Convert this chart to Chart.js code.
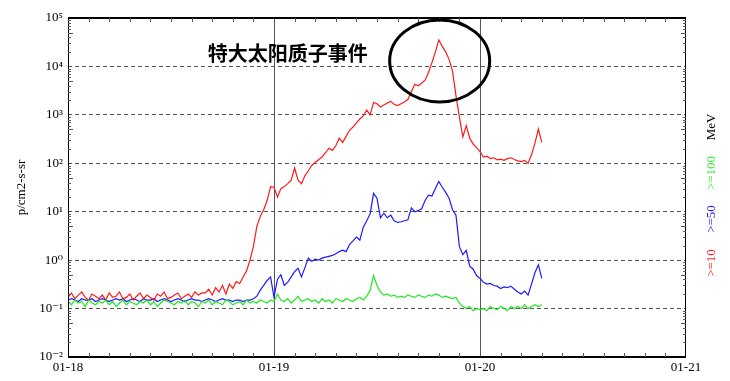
<!DOCTYPE html>
<html lang="zh">
<head>
    <meta charset="UTF-8">
    <title>特大太阳质子事件</title>
    <script src="https://cdn.jsdelivr.net/npm/chart.js"></script>
    <style>
        body { margin: 0; padding: 0; background: #fff; }
        canvas { display: block; }
    </style>
</head>
<body>
    <canvas id="protonChart" width="730" height="381"></canvas>

    <script>
        // x axis: hours since 01-18 00:00, one sample every 0.4 h
        const dayLabels = ['01-18', '01-19', '01-20', '01-21'];
        const dayHours = [0, 24, 48, 72];
        const yTickValues = [0.01, 0.1, 1, 10, 100, 1000, 10000, 100000];
        const yTickLabels = ['10⁻²', '10⁻¹', '10⁰', '10¹', '10²', '10³', '10⁴', '10⁵'];
        const seriesLabels = ['>=10', '>=50', '>=100'];

        // >=10 MeV
        const redFlux = [
            0.17, 0.21, 0.16, 0.19, 0.22, 0.17, 0.15, 0.20, 0.18, 0.16,
            0.19, 0.15, 0.21, 0.17, 0.18, 0.22, 0.16, 0.17, 0.20, 0.15,
            0.18, 0.21, 0.16, 0.19, 0.17, 0.15, 0.20, 0.18, 0.22, 0.16,
            0.17, 0.19, 0.21, 0.16, 0.18, 0.20, 0.17, 0.22, 0.19, 0.21,
            0.21, 0.25, 0.19, 0.27, 0.22, 0.30, 0.20, 0.32, 0.26, 0.36,
            0.33, 0.45, 0.60, 1.0, 1.9, 5, 8, 11, 17, 33,
            32, 20, 30, 33, 38, 45, 80, 45, 38, 55,
            70, 90, 105, 118, 135, 165, 205, 185, 230, 330,
            270, 360, 480, 560, 680, 820, 950, 1250, 1000, 1800,
            1700, 1450, 1600, 1750, 1900, 1650, 1550, 1700, 1850, 2100,
            3000, 4300, 4000, 4500, 5200, 7500, 12000, 20000, 35000, 26000,
            20000, 14000, 8000, 2500, 900, 350, 600, 330, 250, 210,
            175, 135, 140, 125, 130, 118, 122, 115, 125, 130,
            120, 112, 108, 115, 100, 150, 260, 510, 270
        ];

        // >=50 MeV
        const blueFlux = [
            0.15, 0.16, 0.15, 0.14, 0.16, 0.15, 0.15, 0.16, 0.14, 0.15,
            0.16, 0.15, 0.14, 0.15, 0.16, 0.15, 0.16, 0.14, 0.15, 0.16,
            0.15, 0.14, 0.16, 0.15, 0.15, 0.16, 0.14, 0.15, 0.16, 0.15,
            0.14, 0.15, 0.16, 0.15, 0.14, 0.15, 0.16, 0.15, 0.15, 0.14,
            0.15, 0.16, 0.15, 0.14, 0.15, 0.16, 0.15, 0.15, 0.14, 0.15,
            0.15, 0.14, 0.15, 0.15, 0.16, 0.18, 0.24, 0.30, 0.38, 0.45,
            0.17, 0.40, 0.50, 0.30, 0.35, 0.45, 0.58, 0.68, 0.45, 0.70,
            1.1, 0.95, 1.05, 1.0, 1.1, 1.15, 1.2, 1.25, 1.35, 1.5,
            1.6, 1.5, 2.1, 2.5, 3.0, 2.6, 4.8, 6.5, 9, 24,
            19, 7.5, 9.3, 7.5, 8.5, 6.5, 6.0, 6.2, 6.5, 6.8,
            12, 10, 10.5, 11.5, 17, 22, 21, 30, 42, 32,
            25, 19, 11, 8.5, 1.9, 1.3, 1.6, 0.75, 0.65, 0.48,
            0.42, 0.35, 0.32, 0.33, 0.30, 0.29, 0.26, 0.28, 0.27, 0.29,
            0.25, 0.22, 0.20, 0.23, 0.19, 0.32, 0.55, 0.80, 0.42
        ];

        // >=100 MeV
        const greenFlux = [
            0.14, 0.12, 0.15, 0.13, 0.14, 0.11, 0.15, 0.13, 0.12, 0.14,
            0.13, 0.15, 0.12, 0.14, 0.11, 0.13, 0.15, 0.12, 0.14, 0.13,
            0.12, 0.14, 0.13, 0.15, 0.12, 0.14, 0.11, 0.13, 0.15, 0.14,
            0.13, 0.12, 0.14, 0.13, 0.15, 0.12, 0.14, 0.13, 0.11, 0.14,
            0.13, 0.15, 0.12, 0.14, 0.13, 0.12, 0.15, 0.14, 0.12, 0.13,
            0.14, 0.12, 0.15, 0.13, 0.14, 0.13, 0.15, 0.14, 0.13, 0.15,
            0.14, 0.20, 0.15, 0.14, 0.16, 0.13, 0.15, 0.18, 0.14, 0.15,
            0.16, 0.14, 0.15, 0.13, 0.16, 0.14, 0.15, 0.13, 0.16, 0.15,
            0.14, 0.16, 0.15, 0.14, 0.16, 0.17, 0.15, 0.18, 0.24, 0.48,
            0.30, 0.22, 0.19, 0.20, 0.18, 0.19, 0.17, 0.18, 0.17, 0.19,
            0.18, 0.17, 0.19, 0.18, 0.17, 0.19, 0.18, 0.20, 0.19, 0.17,
            0.18, 0.17, 0.16, 0.17, 0.13, 0.11, 0.10, 0.11, 0.09, 0.10,
            0.095, 0.10, 0.09, 0.11, 0.10, 0.095, 0.11, 0.10, 0.09, 0.11,
            0.10, 0.11, 0.10, 0.12, 0.10, 0.11, 0.12, 0.11, 0.12
        ];

        const sampleHours = redFlux.map((_, i) => i * 0.4);
        const toPoints = vals => vals.map((v, i) => ({ x: sampleHours[i], y: v }));

        const SERIF = "'Liberation Serif', 'DejaVu Serif', serif";

        // frame, inside tick marks, right-hand legend, event note + circle
        const decorations = {
            id: 'decorations',
            afterDatasetsDraw(chart) {
                const { ctx, chartArea: a, scales: { x, y } } = chart;
                ctx.save();

                // frame
                ctx.strokeStyle = '#000';
                ctx.lineWidth = 1;
                ctx.beginPath();
                ctx.moveTo(a.left + 0.5, a.top);
                ctx.lineTo(a.left + 0.5, a.bottom);
                ctx.moveTo(a.right - 0.5, a.top);
                ctx.lineTo(a.right - 0.5, a.bottom);
                ctx.stroke();
                ctx.lineWidth = 2;
                ctx.beginPath();
                ctx.moveTo(a.left, a.top);
                ctx.lineTo(a.right, a.top);
                ctx.moveTo(a.left, a.bottom);
                ctx.lineTo(a.right, a.bottom);
                ctx.stroke();

                // minor ticks on the log axes
                ctx.strokeStyle = '#555';
                ctx.lineWidth = 1;
                ctx.beginPath();
                for (let d = -2; d < 5; d++) {
                    for (let m = 2; m <= 9; m++) {
                        const py = Math.round(y.getPixelForValue(m * Math.pow(10, d))) + 0.5;
                        const len = m === 5 ? 5 : 3;
                        ctx.moveTo(a.left, py); ctx.lineTo(a.left + len, py);
                        ctx.moveTo(a.right, py); ctx.lineTo(a.right - len, py);
                    }
                }
                // time ticks every 0.1 day
                for (let k = 1; k < 30; k++) {
                    if (k % 10 === 0) continue;
                    const px = Math.round(x.getPixelForValue(k * 2.4)) + 0.5;
                    ctx.moveTo(px, a.bottom); ctx.lineTo(px, a.bottom - 4);
                    ctx.moveTo(px, a.top); ctx.lineTo(px, a.top + 4);
                }
                ctx.stroke();

                // right-side energy labels, rotated
                ctx.font = '13px ' + SERIF;
                ctx.textBaseline = 'middle';
                ctx.textAlign = 'center';
                const legendColors = ['#ff2020', '#2020ff', '#33ee33', '#000'];
                const legendY = [263, 219, 173, 127];
                const legendText = seriesLabels.concat(['MeV']);
                legendText.forEach((t, i) => {
                    ctx.save();
                    ctx.translate(712, legendY[i]);
                    ctx.rotate(-Math.PI / 2);
                    ctx.fillStyle = legendColors[i];
                    ctx.fillText(t, 0, 0);
                    ctx.restore();
                });

                // event note
                ctx.fillStyle = '#000';
                ctx.font = "bold 20px 'Noto Sans CJK SC', sans-serif";
                ctx.fillText('特大太阳质子事件', x.getPixelForValue(25.6), y.getPixelForValue(19000));

                // circle round the peak
                ctx.strokeStyle = '#000';
                ctx.lineWidth = 3;
                ctx.beginPath();
                ctx.ellipse(x.getPixelForValue(43.3), y.getPixelForValue(13000), 50, 41, 0, 0, Math.PI * 2);
                ctx.stroke();

                ctx.restore();
            }
        };

        new Chart(document.getElementById('protonChart'), {
            type: 'line',
            data: {
                datasets: [
                    { label: seriesLabels[2], data: toPoints(greenFlux), borderColor: '#1ee81e' },
                    { label: seriesLabels[0], data: toPoints(redFlux), borderColor: '#ff1a1a' },
                    { label: seriesLabels[1], data: toPoints(blueFlux), borderColor: '#1a1aff' }
                ]
            },
            options: {
                responsive: false,
                animation: false,
                elements: {
                    line: { borderWidth: 1.2, tension: 0 },
                    point: { radius: 0 }
                },
                layout: { padding: { top: 18, right: 44, left: 0, bottom: 0 } },
                plugins: { legend: { display: false }, tooltip: { enabled: false } },
                scales: {
                    x: {
                        type: 'linear',
                        min: 0,
                        max: 72,
                        afterBuildTicks: s => { s.ticks = dayHours.map(v => ({ value: v })); },
                        afterFit: s => { s.height = 24; },
                        ticks: {
                            callback: (v, i) => dayLabels[i],
                            autoSkip: false,
                            maxRotation: 0,
                            padding: 3,
                            color: '#000',
                            font: { family: SERIF, size: 13 }
                        },
                        grid: {
                            drawTicks: false,
                            lineWidth: 1,
                            color: c => (c.tick && (c.tick.value === 0 || c.tick.value === 72)) ? 'rgba(0,0,0,0)' : '#555'
                        },
                        border: { display: false }
                    },
                    y: {
                        type: 'logarithmic',
                        min: 0.01,
                        max: 100000,
                        afterBuildTicks: s => { s.ticks = yTickValues.map(v => ({ value: v })); },
                        afterFit: s => { s.width = 68; },
                        ticks: {
                            callback: (v, i) => yTickLabels[i],
                            autoSkip: false,
                            padding: 5,
                            color: '#000',
                            font: { family: SERIF, size: 13 }
                        },
                        grid: {
                            drawTicks: false,
                            lineWidth: 1,
                            color: c => (c.tick && (c.tick.value === 0.01 || c.tick.value === 100000)) ? 'rgba(0,0,0,0)' : '#555'
                        },
                        border: { display: false, dash: [4, 3] },
                        title: {
                            display: true,
                            text: 'p/cm2-s-sr',
                            color: '#000',
                            font: { family: SERIF, size: 13 },
                            padding: { top: 14, bottom: 0 }
                        }
                    }
                }
            },
            plugins: [decorations]
        });
    </script>
</body>
</html>
